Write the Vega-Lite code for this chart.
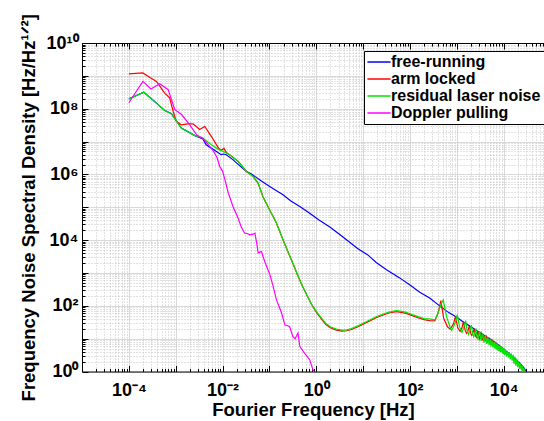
{
"$schema": "https://vega.github.io/schema/vega-lite/v6.json",
"width": 462,
"height": 328.5,
"autosize": {"type": "none"},
"padding": {"left": 82, "top": 43, "right": 0, "bottom": 49.5},
"background": "white",
"config": {"view": {"stroke": null}, "font": "Liberation Sans"},
"data": {"values": [
{"series":"free-running","freq":0.0001,"noise":1.995e8},
{"series":"free-running","freq":2.089e-4,"noise":3.162e8},
{"series":"free-running","freq":3.548e-4,"noise":1.660e8},
{"series":"free-running","freq":5.754e-4,"noise":8.913e7},
{"series":"free-running","freq":8.128e-4,"noise":7.079e7},
{"series":"free-running","freq":1.318e-3,"noise":2.570e7},
{"series":"free-running","freq":2.570e-3,"noise":1.514e7},
{"series":"free-running","freq":3.802e-3,"noise":1.202e7},
{"series":"free-running","freq":4.467e-3,"noise":7.943e6},
{"series":"free-running","freq":5.754e-3,"noise":6.310e6},
{"series":"free-running","freq":7.413e-3,"noise":5.012e6},
{"series":"free-running","freq":9.333e-3,"noise":3.981e6},
{"series":"free-running","freq":1.047e-2,"noise":4.169e6},
{"series":"free-running","freq":1.202e-2,"noise":3.981e6},
{"series":"free-running","freq":1.660e-2,"noise":2.818e6},
{"series":"free-running","freq":2.344e-2,"noise":1.820e6},
{"series":"free-running","freq":3.236e-2,"noise":1.230e6},
{"series":"free-running","freq":3.981e-2,"noise":1.072e6},
{"series":"free-running","freq":4.898e-2,"noise":8.710e5},
{"series":"free-running","freq":6.166e-2,"noise":6.918e5},
{"series":"free-running","freq":8.710e-2,"noise":4.898e5},
{"series":"free-running","freq":0.1259,"noise":3.548e5},
{"series":"free-running","freq":0.1950,"noise":2.399e5},
{"series":"free-running","freq":0.2818,"noise":1.585e5},
{"series":"free-running","freq":0.4467,"noise":1.047e5},
{"series":"free-running","freq":0.7244,"noise":6.607e4},
{"series":"free-running","freq":1.122,"noise":4.169e4},
{"series":"free-running","freq":1.950,"noise":2.512e4},
{"series":"free-running","freq":3.548,"noise":1.318e4},
{"series":"free-running","freq":7.762,"noise":5495},
{"series":"free-running","freq":12.59,"noise":3548},
{"series":"free-running","freq":19.05,"noise":2089},
{"series":"free-running","freq":31.62,"noise":1259},
{"series":"free-running","freq":60.26,"noise":707.9},
{"series":"free-running","freq":100,"noise":426.6},
{"series":"free-running","freq":162.2,"noise":257.0},
{"series":"free-running","freq":263.0,"noise":173.8},
{"series":"free-running","freq":436.5,"noise":97.72},
{"series":"free-running","freq":660.7,"noise":63.10},
{"series":"free-running","freq":977.2,"noise":45.71},
{"series":"free-running","freq":1479,"noise":30.20},
{"series":"free-running","freq":2239,"noise":20.89},
{"series":"free-running","freq":3548,"noise":13.49},
{"series":"free-running","freq":5495,"noise":9.120},
{"series":"free-running","freq":7943,"noise":6.310},
{"series":"free-running","freq":11480,"noise":4.074},
{"series":"free-running","freq":15850,"noise":2.754},
{"series":"free-running","freq":21880,"noise":1.820},
{"series":"free-running","freq":26300,"noise":1.349},
{"series":"free-running","freq":30900,"noise":0.977},
{"series":"arm locked","freq":0.0001,"noise":1.148e9},
{"series":"arm locked","freq":1.995e-4,"noise":1.230e9},
{"series":"arm locked","freq":2.818e-4,"noise":8.913e8},
{"series":"arm locked","freq":3.890e-4,"noise":6.761e8},
{"series":"arm locked","freq":5.754e-4,"noise":3.020e8},
{"series":"arm locked","freq":7.413e-4,"noise":2.138e8},
{"series":"arm locked","freq":8.913e-4,"noise":7.943e7},
{"series":"arm locked","freq":1.023e-3,"noise":4.169e7},
{"series":"arm locked","freq":1.318e-3,"noise":3.236e7},
{"series":"arm locked","freq":1.820e-3,"noise":3.467e7},
{"series":"arm locked","freq":2.344e-3,"noise":3.467e7},
{"series":"arm locked","freq":3.236e-3,"noise":2.344e7},
{"series":"arm locked","freq":4.169e-3,"noise":2.884e7},
{"series":"arm locked","freq":5.754e-3,"noise":1.445e7},
{"series":"arm locked","freq":7.943e-3,"noise":6.761e6},
{"series":"arm locked","freq":9.120e-3,"noise":5.370e6},
{"series":"arm locked","freq":1.072e-2,"noise":6.166e6},
{"series":"arm locked","freq":1.202e-2,"noise":4.677e6},
{"series":"arm locked","freq":1.413e-2,"noise":3.981e6},
{"series":"arm locked","freq":2.138e-2,"noise":2.512e6},
{"series":"arm locked","freq":3.236e-2,"noise":1.230e6},
{"series":"arm locked","freq":4.467e-2,"noise":8.710e5},
{"series":"arm locked","freq":5.754e-2,"noise":5.370e5},
{"series":"arm locked","freq":7.244e-2,"noise":2.138e5},
{"series":"arm locked","freq":0.1,"noise":8.511e4},
{"series":"arm locked","freq":0.1202,"noise":5.248e4},
{"series":"arm locked","freq":0.1413,"noise":3.311e4},
{"series":"arm locked","freq":0.1950,"noise":1.023e4},
{"series":"arm locked","freq":0.2512,"noise":4266},
{"series":"arm locked","freq":0.3162,"noise":1950},
{"series":"arm locked","freq":0.3981,"noise":871.0},
{"series":"arm locked","freq":0.5012,"noise":407.4},
{"series":"arm locked","freq":0.6310,"noise":208.9},
{"series":"arm locked","freq":0.7943,"noise":109.6},
{"series":"arm locked","freq":1,"noise":64.57},
{"series":"arm locked","freq":1.259,"noise":41.69},
{"series":"arm locked","freq":1.585,"noise":27.54},
{"series":"arm locked","freq":1.995,"noise":21.38},
{"series":"arm locked","freq":2.692,"noise":18.20},
{"series":"arm locked","freq":3.548,"noise":16.98},
{"series":"arm locked","freq":4.467,"noise":17.38},
{"series":"arm locked","freq":5.623,"noise":19.05},
{"series":"arm locked","freq":7.762,"noise":22.91},
{"series":"arm locked","freq":10,"noise":27.54},
{"series":"arm locked","freq":13.80,"noise":34.67},
{"series":"arm locked","freq":19.95,"noise":44.67},
{"series":"arm locked","freq":26.92,"noise":52.48},
{"series":"arm locked","freq":35.48,"noise":60.26},
{"series":"arm locked","freq":51.29,"noise":66.07},
{"series":"arm locked","freq":70.79,"noise":61.66},
{"series":"arm locked","freq":83.18,"noise":58.88},
{"series":"arm locked","freq":112.2,"noise":50.12},
{"series":"arm locked","freq":147.9,"noise":43.65},
{"series":"arm locked","freq":199.5,"noise":38.02},
{"series":"arm locked","freq":263.0,"noise":35.48},
{"series":"arm locked","freq":338.8,"noise":34.67},
{"series":"arm locked","freq":398.1,"noise":60.26},
{"series":"arm locked","freq":457.1,"noise":144.5},
{"series":"arm locked","freq":524.8,"noise":41.69},
{"series":"arm locked","freq":631.0,"noise":22.91},
{"series":"arm locked","freq":724.4,"noise":19.50},
{"series":"arm locked","freq":851.1,"noise":28.18},
{"series":"arm locked","freq":933.3,"noise":47.86},
{"series":"arm locked","freq":1047,"noise":21.38},
{"series":"arm locked","freq":1175,"noise":16.60},
{"series":"arm locked","freq":1288,"noise":21.38},
{"series":"arm locked","freq":1380,"noise":33.11},
{"series":"arm locked","freq":1514,"noise":17.78},
{"series":"arm locked","freq":1622,"noise":14.45},
{"series":"arm locked","freq":1738,"noise":17.78},
{"series":"arm locked","freq":1862,"noise":25.12},
{"series":"arm locked","freq":1995,"noise":14.13},
{"series":"arm locked","freq":2089,"noise":12.59},
{"series":"arm locked","freq":2239,"noise":15.85},
{"series":"arm locked","freq":2344,"noise":19.95},
{"series":"arm locked","freq":2512,"noise":12.02},
{"series":"arm locked","freq":2630,"noise":10.96},
{"series":"arm locked","freq":2818,"noise":16.60},
{"series":"arm locked","freq":3020,"noise":9.772},
{"series":"arm locked","freq":3311,"noise":14.45},
{"series":"arm locked","freq":3548,"noise":8.913},
{"series":"arm locked","freq":3802,"noise":12.59},
{"series":"arm locked","freq":3981,"noise":8.318},
{"series":"arm locked","freq":4266,"noise":11.48},
{"series":"arm locked","freq":4571,"noise":7.943},
{"series":"arm locked","freq":4898,"noise":10},
{"series":"arm locked","freq":5248,"noise":7.244},
{"series":"arm locked","freq":5623,"noise":9.120},
{"series":"arm locked","freq":6026,"noise":6.918},
{"series":"arm locked","freq":6457,"noise":7.943},
{"series":"arm locked","freq":7079,"noise":6.918},
{"series":"arm locked","freq":7943,"noise":6.026},
{"series":"arm locked","freq":8913,"noise":5.248},
{"series":"arm locked","freq":10000,"noise":4.571},
{"series":"arm locked","freq":11220,"noise":3.981},
{"series":"arm locked","freq":12590,"noise":3.467},
{"series":"arm locked","freq":14130,"noise":2.951},
{"series":"arm locked","freq":15850,"noise":2.512},
{"series":"arm locked","freq":17780,"noise":2.138},
{"series":"arm locked","freq":19950,"noise":1.738},
{"series":"arm locked","freq":22390,"noise":1.380},
{"series":"arm locked","freq":25120,"noise":1.148},
{"series":"arm locked","freq":28180,"noise":0.955},
{"series":"arm locked","freq":29510,"noise":0.891},
{"series":"residual laser noise","freq":0.0001,"noise":1.995e8},
{"series":"residual laser noise","freq":2.089e-4,"noise":3.162e8},
{"series":"residual laser noise","freq":3.548e-4,"noise":1.660e8},
{"series":"residual laser noise","freq":5.754e-4,"noise":8.913e7},
{"series":"residual laser noise","freq":8.128e-4,"noise":7.079e7},
{"series":"residual laser noise","freq":1.318e-3,"noise":2.570e7},
{"series":"residual laser noise","freq":2.570e-3,"noise":1.514e7},
{"series":"residual laser noise","freq":3.802e-3,"noise":1.288e7},
{"series":"residual laser noise","freq":5.754e-3,"noise":7.943e6},
{"series":"residual laser noise","freq":7.943e-3,"noise":5.888e6},
{"series":"residual laser noise","freq":1.023e-2,"noise":5.012e6},
{"series":"residual laser noise","freq":1.413e-2,"noise":3.981e6},
{"series":"residual laser noise","freq":2.138e-2,"noise":2.512e6},
{"series":"residual laser noise","freq":3.236e-2,"noise":1.230e6},
{"series":"residual laser noise","freq":4.467e-2,"noise":8.710e5},
{"series":"residual laser noise","freq":5.754e-2,"noise":5.495e5},
{"series":"residual laser noise","freq":7.244e-2,"noise":2.138e5},
{"series":"residual laser noise","freq":0.1,"noise":8.511e4},
{"series":"residual laser noise","freq":0.1202,"noise":5.248e4},
{"series":"residual laser noise","freq":0.1413,"noise":3.311e4},
{"series":"residual laser noise","freq":0.1950,"noise":1.023e4},
{"series":"residual laser noise","freq":0.2512,"noise":4365},
{"series":"residual laser noise","freq":0.3162,"noise":1995},
{"series":"residual laser noise","freq":0.3981,"noise":891.3},
{"series":"residual laser noise","freq":0.5012,"noise":416.9},
{"series":"residual laser noise","freq":0.6310,"noise":213.8},
{"series":"residual laser noise","freq":0.7943,"noise":112.2},
{"series":"residual laser noise","freq":1,"noise":67.61},
{"series":"residual laser noise","freq":1.259,"noise":44.67},
{"series":"residual laser noise","freq":1.585,"noise":29.51},
{"series":"residual laser noise","freq":1.995,"noise":22.91},
{"series":"residual laser noise","freq":2.692,"noise":19.50},
{"series":"residual laser noise","freq":3.548,"noise":18.20},
{"series":"residual laser noise","freq":4.467,"noise":18.62},
{"series":"residual laser noise","freq":5.623,"noise":20.42},
{"series":"residual laser noise","freq":7.762,"noise":24.55},
{"series":"residual laser noise","freq":10,"noise":29.51},
{"series":"residual laser noise","freq":13.80,"noise":37.15},
{"series":"residual laser noise","freq":19.95,"noise":47.86},
{"series":"residual laser noise","freq":26.92,"noise":56.23},
{"series":"residual laser noise","freq":35.48,"noise":64.57},
{"series":"residual laser noise","freq":51.29,"noise":70.79},
{"series":"residual laser noise","freq":70.79,"noise":66.07},
{"series":"residual laser noise","freq":83.18,"noise":63.10},
{"series":"residual laser noise","freq":112.2,"noise":53.70},
{"series":"residual laser noise","freq":147.9,"noise":46.77},
{"series":"residual laser noise","freq":199.5,"noise":40.74},
{"series":"residual laser noise","freq":263.0,"noise":39.81},
{"series":"residual laser noise","freq":338.8,"noise":37.15},
{"series":"residual laser noise","freq":398.1,"noise":60.26},
{"series":"residual laser noise","freq":467.7,"noise":120.2},
{"series":"residual laser noise","freq":512.9,"noise":151.4},
{"series":"residual laser noise","freq":602.6,"noise":47.86},
{"series":"residual laser noise","freq":707.9,"noise":23.44},
{"series":"residual laser noise","freq":776.2,"noise":17.78},
{"series":"residual laser noise","freq":912.0,"noise":28.18},
{"series":"residual laser noise","freq":1023,"noise":53.70},
{"series":"residual laser noise","freq":1148,"noise":22.39},
{"series":"residual laser noise","freq":1288,"noise":15.49},
{"series":"residual laser noise","freq":1413,"noise":22.39},
{"series":"residual laser noise","freq":1549,"noise":35.48},
{"series":"residual laser noise","freq":1660,"noise":17.78},
{"series":"residual laser noise","freq":1778,"noise":13.49},
{"series":"residual laser noise","freq":1905,"noise":17.78},
{"series":"residual laser noise","freq":2042,"noise":25.70},
{"series":"residual laser noise","freq":2188,"noise":14.13},
{"series":"residual laser noise","freq":2291,"noise":11.48},
{"series":"residual laser noise","freq":2455,"noise":15.14},
{"series":"residual laser noise","freq":2570,"noise":20.42},
{"series":"residual laser noise","freq":2692,"noise":11.48},
{"series":"residual laser noise","freq":2818,"noise":9.772},
{"series":"residual laser noise","freq":2951,"noise":13.18},
{"series":"residual laser noise","freq":3090,"noise":16.98},
{"series":"residual laser noise","freq":3236,"noise":10},
{"series":"residual laser noise","freq":3311,"noise":8.511},
{"series":"residual laser noise","freq":3548,"noise":14.45},
{"series":"residual laser noise","freq":3802,"noise":7.586},
{"series":"residual laser noise","freq":4074,"noise":12.59},
{"series":"residual laser noise","freq":4365,"noise":6.918},
{"series":"residual laser noise","freq":4571,"noise":10.96},
{"series":"residual laser noise","freq":4898,"noise":6.310},
{"series":"residual laser noise","freq":5129,"noise":9.772},
{"series":"residual laser noise","freq":5370,"noise":5.754},
{"series":"residual laser noise","freq":5623,"noise":8.913},
{"series":"residual laser noise","freq":5888,"noise":5.370},
{"series":"residual laser noise","freq":6166,"noise":8.128},
{"series":"residual laser noise","freq":6457,"noise":5.012},
{"series":"residual laser noise","freq":6607,"noise":7.586},
{"series":"residual laser noise","freq":6918,"noise":4.677},
{"series":"residual laser noise","freq":7079,"noise":7.079},
{"series":"residual laser noise","freq":7413,"noise":4.365},
{"series":"residual laser noise","freq":7586,"noise":6.607},
{"series":"residual laser noise","freq":7943,"noise":4.169},
{"series":"residual laser noise","freq":8128,"noise":6.166},
{"series":"residual laser noise","freq":8511,"noise":3.981},
{"series":"residual laser noise","freq":8710,"noise":5.888},
{"series":"residual laser noise","freq":8913,"noise":3.802},
{"series":"residual laser noise","freq":9120,"noise":5.495},
{"series":"residual laser noise","freq":9550,"noise":3.548},
{"series":"residual laser noise","freq":9772,"noise":5.248},
{"series":"residual laser noise","freq":10000,"noise":3.388},
{"series":"residual laser noise","freq":10230,"noise":5.012},
{"series":"residual laser noise","freq":10470,"noise":3.162},
{"series":"residual laser noise","freq":10960,"noise":4.571},
{"series":"residual laser noise","freq":11480,"noise":2.884},
{"series":"residual laser noise","freq":12020,"noise":4.266},
{"series":"residual laser noise","freq":12590,"noise":2.630},
{"series":"residual laser noise","freq":13180,"noise":3.890},
{"series":"residual laser noise","freq":13800,"noise":2.344},
{"series":"residual laser noise","freq":14450,"noise":3.548},
{"series":"residual laser noise","freq":15140,"noise":2.138},
{"series":"residual laser noise","freq":15850,"noise":3.236},
{"series":"residual laser noise","freq":16600,"noise":1.698},
{"series":"residual laser noise","freq":17380,"noise":2.818},
{"series":"residual laser noise","freq":18200,"noise":1.514},
{"series":"residual laser noise","freq":19050,"noise":2.455},
{"series":"residual laser noise","freq":19950,"noise":1.349},
{"series":"residual laser noise","freq":20890,"noise":2.089},
{"series":"residual laser noise","freq":21880,"noise":1.202},
{"series":"residual laser noise","freq":22910,"noise":1.778},
{"series":"residual laser noise","freq":23990,"noise":1.072},
{"series":"residual laser noise","freq":25120,"noise":1.514},
{"series":"residual laser noise","freq":26300,"noise":0.955},
{"series":"residual laser noise","freq":27540,"noise":1.230},
{"series":"residual laser noise","freq":28840,"noise":0.891},
{"series":"Doppler pulling","freq":0.0001,"noise":1.514e8},
{"series":"Doppler pulling","freq":1.995e-4,"noise":6.761e8},
{"series":"Doppler pulling","freq":2.951e-4,"noise":3.981e8},
{"series":"Doppler pulling","freq":4.571e-4,"noise":5.754e8},
{"series":"Doppler pulling","freq":6.918e-4,"noise":3.802e8},
{"series":"Doppler pulling","freq":9.550e-4,"noise":9.333e7},
{"series":"Doppler pulling","freq":1.318e-3,"noise":6.761e7},
{"series":"Doppler pulling","freq":1.995e-3,"noise":3.236e7},
{"series":"Doppler pulling","freq":2.818e-3,"noise":1.585e7},
{"series":"Doppler pulling","freq":3.802e-3,"noise":1.259e7},
{"series":"Doppler pulling","freq":5.012e-3,"noise":7.943e6},
{"series":"Doppler pulling","freq":6.310e-3,"noise":5.248e6},
{"series":"Doppler pulling","freq":7.586e-3,"noise":3.311e6},
{"series":"Doppler pulling","freq":8.710e-3,"noise":1.738e6},
{"series":"Doppler pulling","freq":0.01,"noise":1.259e6},
{"series":"Doppler pulling","freq":1.122e-2,"noise":6.918e5},
{"series":"Doppler pulling","freq":1.318e-2,"noise":2.818e5},
{"series":"Doppler pulling","freq":1.660e-2,"noise":1.072e5},
{"series":"Doppler pulling","freq":2.138e-2,"noise":4.677e4},
{"series":"Doppler pulling","freq":2.512e-2,"noise":2.512e4},
{"series":"Doppler pulling","freq":2.951e-2,"noise":1.622e4},
{"series":"Doppler pulling","freq":3.388e-2,"noise":1.585e4},
{"series":"Doppler pulling","freq":3.802e-2,"noise":1.445e4},
{"series":"Doppler pulling","freq":4.467e-2,"noise":1.514e4},
{"series":"Doppler pulling","freq":4.898e-2,"noise":1.622e4},
{"series":"Doppler pulling","freq":5.370e-2,"noise":8128},
{"series":"Doppler pulling","freq":5.754e-2,"noise":4074},
{"series":"Doppler pulling","freq":6.761e-2,"noise":4467},
{"series":"Doppler pulling","freq":7.943e-2,"noise":2239},
{"series":"Doppler pulling","freq":0.1023,"noise":891.3},
{"series":"Doppler pulling","freq":0.1202,"noise":389.0},
{"series":"Doppler pulling","freq":0.1413,"noise":151.4},
{"series":"Doppler pulling","freq":0.1820,"noise":60.26},
{"series":"Doppler pulling","freq":0.2138,"noise":26.30},
{"series":"Doppler pulling","freq":0.2692,"noise":23.44},
{"series":"Doppler pulling","freq":0.3162,"noise":11.75},
{"series":"Doppler pulling","freq":0.3548,"noise":10},
{"series":"Doppler pulling","freq":0.4074,"noise":14.79},
{"series":"Doppler pulling","freq":0.4467,"noise":5.754},
{"series":"Doppler pulling","freq":0.5623,"noise":3.631},
{"series":"Doppler pulling","freq":0.7244,"noise":2.291},
{"series":"Doppler pulling","freq":0.8511,"noise":1.122},
{"series":"Doppler pulling","freq":0.9772,"noise":0.891}
]},
"layer": [
{
"mark": {"type": "line", "strokeWidth": 1.2, "clip": true},
"encoding": {
"x": {"field": "freq", "type": "quantitative",
"scale": {"type": "log", "domain": [0.00001, 72600], "nice": false},
"axis": {"orient": "bottom",
"values": [0.00001,0.00002,0.00003,0.00004,0.00005,0.00006,0.00007,0.00008,0.00009,0.0001,0.0002,0.0003,0.0004,0.0005,0.0006,0.0007,0.0008,0.0009,0.001,0.002,0.003,0.004,0.005,0.006,0.007,0.008,0.009,0.01,0.02,0.03,0.04,0.05,0.06,0.07,0.08,0.09,0.1,0.2,0.3,0.4,0.5,0.6,0.7,0.8,0.9,1,2,3,4,5,6,7,8,9,10,20,30,40,50,60,70,80,90,100,200,300,400,500,600,700,800,900,1000,2000,3000,4000,5000,6000,7000,8000,9000,10000,20000,30000,40000,50000,60000,70000],
"labelExpr": "datum.value == 0.0001 ? '10⁻⁴' : datum.value == 0.01 ? '10⁻²' : datum.value == 1 ? '10⁰' : datum.value == 100 ? '10²' : datum.value == 10000 ? '10⁴' : ''",
"labelOverlap": false, "labelFlush": false,
"labelFont": "Liberation Sans", "labelFontWeight": "bold", "labelFontSize": 18, "labelColor": "black",
"labelPadding": 16,
"grid": true,
"gridColor": {"condition": {"test": "abs(log(datum.value)/LN10 - round(log(datum.value)/LN10)) < 0.000001", "value": "#d9d9d9"}, "value": "#c4c4c4"},
"gridDash": {"condition": {"test": "abs(log(datum.value)/LN10 - round(log(datum.value)/LN10)) < 0.000001", "value": []}, "value": [1, 2]},
"tickSize": {"condition": {"test": "abs(log(datum.value)/LN10 - round(log(datum.value)/LN10)) < 0.000001", "value": -6}, "value": -3},
"tickWidth": 1, "tickColor": "black", "domainColor": "black",
"title": "Fourier Frequency [Hz]",
"titleFont": "Liberation Sans", "titleFontWeight": "bold", "titleFontSize": 18.5, "titleColor": "black",
"titleY": 44, "titleBaseline": "alphabetic"}},
"y": {"field": "noise", "type": "quantitative",
"scale": {"type": "log", "domain": [1, 10000000000], "nice": false},
"axis": {"orient": "left",
"values": [1,2,3,4,5,6,7,8,9,10,20,30,40,50,60,70,80,90,100,200,300,400,500,600,700,800,900,1000,2000,3000,4000,5000,6000,7000,8000,9000,10000,20000,30000,40000,50000,60000,70000,80000,90000,100000,200000,300000,400000,500000,600000,700000,800000,900000,1000000,2000000,3000000,4000000,5000000,6000000,7000000,8000000,9000000,10000000,20000000,30000000,40000000,50000000,60000000,70000000,80000000,90000000,100000000,200000000,300000000,400000000,500000000,600000000,700000000,800000000,900000000,1000000000,2000000000,3000000000,4000000000,5000000000,6000000000,7000000000,8000000000,9000000000,10000000000],
"labelExpr": "datum.value == 1 ? '10⁰' : datum.value == 100 ? '10²' : datum.value == 10000 ? '10⁴' : datum.value == 1000000 ? '10⁶' : datum.value == 100000000 ? '10⁸' : datum.value == 10000000000 ? '10¹⁰' : ''",
"labelOverlap": false, "labelFlush": false,
"labelFont": "Liberation Sans", "labelFontWeight": "bold", "labelFontSize": 18, "labelColor": "black",
"labelPadding": 10,
"grid": true,
"gridColor": {"condition": {"test": "abs(log(datum.value)/LN10 - round(log(datum.value)/LN10)) < 0.000001", "value": "#d9d9d9"}, "value": "#c4c4c4"},
"gridDash": {"condition": {"test": "abs(log(datum.value)/LN10 - round(log(datum.value)/LN10)) < 0.000001", "value": []}, "value": [1, 2]},
"tickSize": {"condition": {"test": "abs(log(datum.value)/LN10 - round(log(datum.value)/LN10)) < 0.000001", "value": -6}, "value": -3},
"tickWidth": 1, "tickColor": "black", "domainColor": "black",
"title": "Frequency Noise Spectral Density [Hz/Hz¹ᐟ²]",
"titleFont": "Liberation Sans", "titleFontWeight": "bold", "titleFontSize": 18.5, "titleColor": "black",
"titlePadding": 7}},
"color": {"field": "series", "type": "nominal",
"scale": {"domain": ["free-running", "arm locked", "residual laser noise", "Doppler pulling"], "range": ["#0000ff", "#ff0000", "#00e600", "#ff00ff"]},
"legend": {"orient": "none", "legendX": 282, "legendY": 8, "title": null,
"symbolType": "M-2,0L2,0", "symbolSize": 134, "symbolStrokeWidth": 1.5, "symbolFillColor": "transparent", "symbolOffset": 4,
"labelFont": "Liberation Sans", "labelFontWeight": "bold", "labelFontSize": 16, "labelColor": "black", "labelLimit": 300,
"strokeColor": "black", "fillColor": "white", "padding": 3, "rowPadding": 1, "labelOffset": 4}}
}
},
{
"mark": {"type": "line", "opacity": 0, "clip": true},
"encoding": {
"x": {"field": "freq", "type": "quantitative",
"axis": {"orient": "top", "labels": false, "grid": false, "title": null,
"values": [0.00001,0.00002,0.00003,0.00004,0.00005,0.00006,0.00007,0.00008,0.00009,0.0001,0.0002,0.0003,0.0004,0.0005,0.0006,0.0007,0.0008,0.0009,0.001,0.002,0.003,0.004,0.005,0.006,0.007,0.008,0.009,0.01,0.02,0.03,0.04,0.05,0.06,0.07,0.08,0.09,0.1,0.2,0.3,0.4,0.5,0.6,0.7,0.8,0.9,1,2,3,4,5,6,7,8,9,10,20,30,40,50,60,70,80,90,100,200,300,400,500,600,700,800,900,1000,2000,3000,4000,5000,6000,7000,8000,9000,10000,20000,30000,40000,50000,60000,70000],
"tickSize": {"condition": {"test": "abs(log(datum.value)/LN10 - round(log(datum.value)/LN10)) < 0.000001", "value": -6}, "value": -3},
"tickWidth": 1, "tickColor": "black", "domainColor": "black"}},
"y": {"field": "noise", "type": "quantitative", "axis": null}
}
}
],
"resolve": {"axis": {"x": "independent", "y": "independent"}}
}
